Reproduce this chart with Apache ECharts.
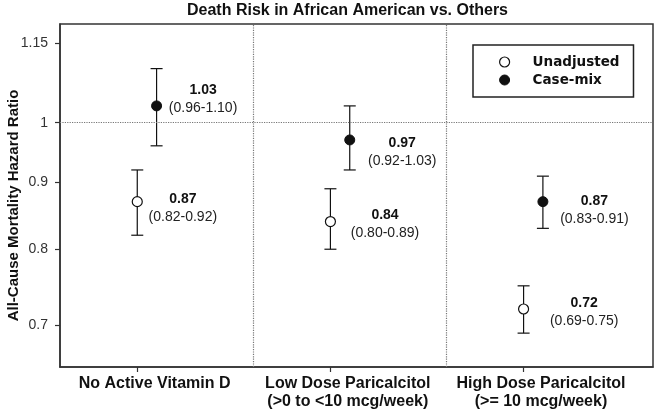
<!DOCTYPE html>
<html>
<head>
<meta charset="utf-8">
<script src="https://cdn.jsdelivr.net/npm/echarts@6/dist/echarts.min.js"></script>
<style>
  html, body { margin: 0; padding: 0; background: #fff; }
  #main { width: 660px; height: 414px; }
</style>
</head>
<body>
<div id="main"></div>
<script>
// categories on the x axis
var categories = ['No Active Vitamin D', 'Low Dose Paricalcitol\n(>0 to <10 mcg/week)', 'High Dose Paricalcitol\n(>= 10 mcg/week)'];

// hazard ratios with 95% CI
var unadjHR = [0.87, 0.84, 0.72];
var unadjLo = [0.82, 0.80, 0.69];
var unadjHi = [0.92, 0.89, 0.75];
var caseHR = [1.03, 0.97, 0.87];
var caseLo = [0.96, 0.92, 0.83];
var caseHi = [1.10, 1.03, 0.91];

var yTicks = [0.7, 0.8, 0.9, 1, 1.15];

// layout: where the points sit inside each group, where the labels go
var caseShift = 0.1;
var labelShift = 0.09;
var dividers = [1.6, 2.6];
var unadjNudge = [[5, 6], [14, 3], [20, 3]];
var caseNudge = [[6, -7], [12, 12], [11, 8]];

var font = 'Liberation Sans, Arial, sans-serif';

function ciLabel(hr, lo, hi) {
  return '{b|' + hr.toFixed(2) + '}\n{n|(' + lo.toFixed(2) + '-' + hi.toFixed(2) + ')}';
}

function pointData(hr, lo, hi, shift, nudge) {
  var out = [];
  for (var i = 0; i < hr.length; i++) {
    out.push({
      value: [i + 1 + shift, hr[i], lo[i], hi[i]],
      label: { offset: nudge[i] }
    });
  }
  return out;
}

function barData(lo, hi, shift) {
  var out = [];
  for (var i = 0; i < lo.length; i++) {
    out.push([i + 1 + shift, lo[i], hi[i]]);
  }
  return out;
}

function errRender(params, api) {
  var x = api.value(0);
  var a = api.coord([x, api.value(1)]);
  var b = api.coord([x, api.value(2)]);
  var w = 6;
  var st = { stroke: '#111', lineWidth: 1.2 };
  return {
    type: 'group',
    children: [
      { type: 'line', shape: { x1: a[0], y1: a[1], x2: b[0], y2: b[1] }, style: st },
      { type: 'line', shape: { x1: a[0] - w, y1: a[1], x2: a[0] + w, y2: a[1] }, style: st },
      { type: 'line', shape: { x1: b[0] - w, y1: b[1], x2: b[0] + w, y2: b[1] }, style: st }
    ]
  };
}

var pointLabel = {
  show: true,
  position: 'right',
  distance: 0,
  fontFamily: font,
  formatter: function (p) {
    return ciLabel(p.value[1], p.value[2], p.value[3]);
  },
  rich: {
    b: { fontFamily: font, fontSize: 14, fontWeight: 'bold', color: '#111', width: 70, align: 'center', lineHeight: 18 },
    n: { fontFamily: font, fontSize: 14, color: '#222', width: 70, align: 'center', lineHeight: 18 }
  }
};

var markLines = [{ yAxis: 1 }];
for (var k = 0; k < dividers.length; k++) markLines.push({ xAxis: dividers[k] });

var dom = document.getElementById('main');
var myChart = echarts.init(dom);

var option = {
  animation: false,
  backgroundColor: '#fff',
  title: {
    text: 'Death Risk in African American vs. Others',
    left: 187,
    top: 3,
    padding: 0,
    textStyle: { fontFamily: font, fontSize: 16, fontWeight: 'bold', color: '#111' }
  },
  legend: {
    orient: 'vertical',
    left: 473,
    top: 45,
    padding: [10, 14, 10, 26],
    itemGap: 4,
    itemWidth: 10,
    itemHeight: 10,
    borderColor: '#222',
    borderWidth: 1.5,
    icon: 'circle',
    data: [
      { name: 'Unadjusted', itemStyle: { color: '#fff', borderColor: '#111', borderWidth: 1.2 } },
      { name: 'Case-mix', itemStyle: { color: '#111', borderColor: '#111', borderWidth: 1 } }
    ],
    textStyle: { fontFamily: 'DejaVu Sans', fontWeight: 'bold', fontSize: 13.5, color: '#111', lineHeight: 14, padding: [0, 0, 0, 18] }
  },
  grid: {
    left: 60, right: 7, top: 24, bottom: 47,
    containLabel: false,
    outerBoundsMode: 'none',
    show: true,
    borderColor: '#333',
    borderWidth: 1.5
  },
  xAxis: {
    type: 'value',
    min: 0.6,
    max: 3.67,
    splitLine: { show: false },
    axisLine: { show: true, onZero: false, lineStyle: { color: '#333', width: 1.5 } },
    axisTick: { show: true, length: 5, customValues: [1, 2, 3], lineStyle: { color: '#333', width: 1.2 } },
    axisLabel: {
      customValues: [1 + labelShift, 2 + labelShift, 3 + labelShift],
      formatter: function (v) { return categories[Math.round(v - labelShift) - 1]; },
      fontFamily: font,
      fontSize: 16,
      fontWeight: 'bold',
      lineHeight: 18,
      color: '#111',
      margin: 8
    }
  },
  yAxis: {
    type: 'log',
    logBase: 10,
    min: 0.65,
    max: 1.19,
    name: 'All-Cause Mortality Hazard Ratio',
    nameLocation: 'middle',
    nameGap: 39,
    nameMoveOverlap: false,
    nameTextStyle: { fontFamily: font, fontSize: 15, fontWeight: 'bold', color: '#111', padding: [0, 20, 0, 0] },
    splitLine: { show: false },
    axisLine: { show: true, onZero: false, lineStyle: { color: '#333', width: 1.5 } },
    axisTick: { show: true, length: 5, customValues: yTicks, lineStyle: { color: '#333', width: 1.2 } },
    axisLabel: {
      customValues: yTicks,
      formatter: function (v) { return String(+(+v).toFixed(2)); },
      fontFamily: font,
      fontSize: 14,
      color: '#333',
      margin: 12
    }
  },
  series: [
    {
      name: 'ci-unadj',
      type: 'custom',
      renderItem: errRender,
      encode: { x: 0, y: [1, 2] },
      data: barData(unadjLo, unadjHi, 0),
      z: 2,
      markLine: {
        silent: true,
        symbol: 'none',
        label: { show: false },
        lineStyle: { color: '#777', type: 'dotted', width: 1.2 },
        data: markLines
      }
    },
    {
      name: 'ci-case',
      type: 'custom',
      renderItem: errRender,
      encode: { x: 0, y: [1, 2] },
      data: barData(caseLo, caseHi, caseShift),
      z: 2
    },
    {
      name: 'Unadjusted',
      type: 'scatter',
      symbol: 'circle',
      symbolSize: 10,
      itemStyle: { color: '#fff', borderColor: '#111', borderWidth: 1.2, opacity: 1 },
      label: pointLabel,
      data: pointData(unadjHR, unadjLo, unadjHi, 0, unadjNudge),
      z: 5
    },
    {
      name: 'Case-mix',
      type: 'scatter',
      symbol: 'circle',
      symbolSize: 10,
      itemStyle: { color: '#111', borderColor: '#111', borderWidth: 1, opacity: 1 },
      label: pointLabel,
      data: pointData(caseHR, caseLo, caseHi, caseShift, caseNudge),
      z: 5
    }
  ]
};

myChart.setOption(option);
</script>
</body>
</html>
